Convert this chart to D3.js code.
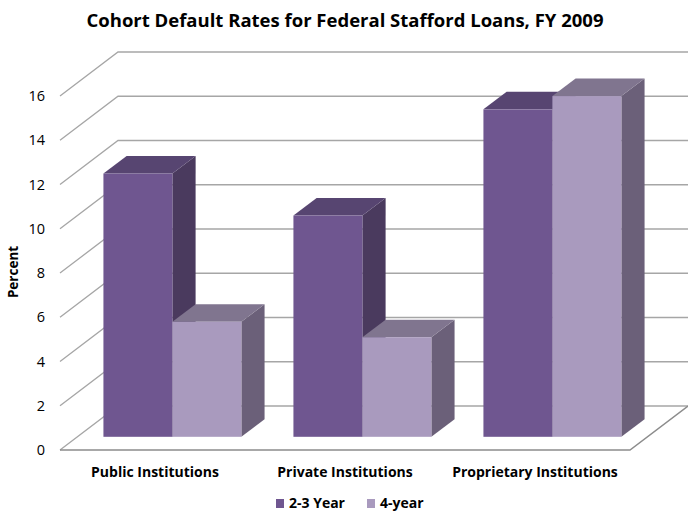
<!DOCTYPE html>
<html>
<head>
<meta charset="utf-8">
<script src="https://cdn.jsdelivr.net/npm/d3@7"></script>
<style>
  html, body { margin: 0; padding: 0; background: #fff; }
  svg { display: block; font-family: "Open Sans", "Liberation Sans", sans-serif; }
</style>
</head>
<body>
<svg id="chart" width="688" height="511"></svg>
<script>
// Cohort default rates by institution type and program length
const categories = ["Public Institutions", "Private Institutions", "Proprietary Institutions"];
const seriesNames = ["2-3 Year", "4-year"];
const twoThreeYear = [11.9, 10.0, 14.8];
const fourYear = [5.2, 4.5, 15.4];
const yTicks = [0, 2, 4, 6, 8, 10, 12, 14, 16];

const seriesValues = [twoThreeYear, fourYear];
const colors = [
  { front: "#6F5690", top: "#574571", side: "#4A3A5E" },
  { front: "#A99ABE", top: "#80758F", side: "#6B6079" }
];

const svg = d3.select("#chart");

// Plot frame: front plane of the floor plus a receding depth offset
const left = 60, right = 630;
const depthX = 58, depthY = -44;
const barDepthStart = 0.3, barDepthEnd = 0.7;

const x0 = d3.scaleBand().domain(categories).range([left, right]).padding(0);
const x1 = d3.scaleBand().domain(seriesNames)
  .range([x0.bandwidth() * 0.137, x0.bandwidth() * 0.863]).padding(0);
const y = d3.scaleLinear().domain([0, 16]).range([450, 96]);

// Title
svg.append("text")
  .attr("x", 345).attr("y", 27)
  .attr("text-anchor", "middle")
  .attr("font-size", 18.5).attr("font-weight", "bold")
  .attr("fill", "#000")
  .text("Cohort Default Rates for Federal Stafford Loans, FY 2009");

// Floor (white parallelogram with grey edges)
const floorPts = [
  [left, y(0)], [right, y(0)],
  [right + depthX, y(0) + depthY], [left + depthX, y(0) + depthY]
];
svg.append("path")
  .attr("d", d3.line()(floorPts) + "Z")
  .attr("fill", "#fff").attr("stroke", "none");

// Gridlines: diagonal on the side wall, then across the back wall
const grid = svg.append("g");
yTicks.forEach(t => {
  const yf = y(t), yb = y(t) + depthY;
  grid.append("path")
    .attr("d", d3.line()([[left, yf], [left + depthX, yb], [688, yb]]))
    .attr("fill", "none")
    .attr("stroke", "#A6A6A6").attr("stroke-width", 1.3);
});
// Floor front and right edges
svg.append("path")
  .attr("d", d3.line()([[left, y(0)], [right, y(0)], [right + depthX, y(0) + depthY]]))
  .attr("fill", "none").attr("stroke", "#8C8C8C").attr("stroke-width", 1.5);

// Tick labels
svg.append("g").selectAll("text").data(yTicks).join("text")
  .attr("x", 45).attr("y", d => y(d) + 5)
  .attr("text-anchor", "end")
  .attr("font-size", 14.5).attr("fill", "#000")
  .text(d => d);

// Axis title
svg.append("text")
  .attr("transform", "translate(18,272) rotate(-90)")
  .attr("text-anchor", "middle")
  .attr("font-size", 13.5).attr("font-weight", "bold")
  .text("Percent");

// 3D bars: front face, top face and right side face
const bars = svg.append("g");
const fx = depthX * barDepthStart, fy = depthY * barDepthStart;
const bdx = depthX * (barDepthEnd - barDepthStart), bdy = depthY * (barDepthEnd - barDepthStart);

categories.forEach((cat, ci) => {
  seriesNames.forEach((s, si) => {
    const v = seriesValues[si][ci];
    const xl = x0(cat) + x1(s) + fx;
    const xr = xl + x1.bandwidth();
    const yb = y(0) + fy;
    const yt = y(v) + fy;
    const c = colors[si];
    const g = bars.append("g");
    g.append("path")
      .attr("d", d3.line()([[xr, yt], [xr + bdx, yt + bdy], [xr + bdx, yb + bdy], [xr, yb]]) + "Z")
      .attr("fill", c.side);
    g.append("path")
      .attr("d", d3.line()([[xl, yt], [xl + bdx, yt + bdy], [xr + bdx, yt + bdy], [xr, yt]]) + "Z")
      .attr("fill", c.top);
    g.append("rect")
      .attr("x", xl).attr("y", yt)
      .attr("width", xr - xl).attr("height", yb - yt)
      .attr("fill", c.front);
  });
});

// Category labels
svg.append("g").selectAll("text").data(categories).join("text")
  .attr("x", d => x0(d) + x0.bandwidth() / 2)
  .attr("y", 477)
  .attr("text-anchor", "middle")
  .attr("font-size", 14).attr("font-weight", "bold")
  .text(d => d);

// Legend
const legend = svg.append("g");
const legendX = [276, 367];
seriesNames.forEach((s, i) => {
  legend.append("rect")
    .attr("x", legendX[i]).attr("y", 499)
    .attr("width", 8).attr("height", 9)
    .attr("fill", colors[i].front);
  legend.append("text")
    .attr("x", legendX[i] + 13).attr("y", 508)
    .attr("font-size", 14).attr("font-weight", "bold")
    .text(s);
});
</script>
</body>
</html>
